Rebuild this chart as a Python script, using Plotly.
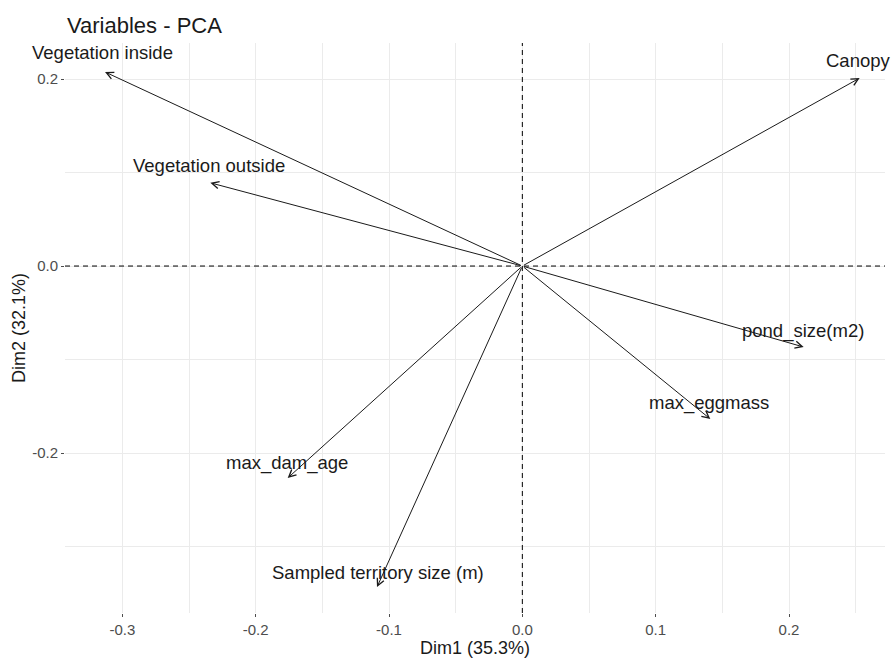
import plotly.graph_objects as go

# ---- data ----
variables = ["Vegetation inside", "Canopy", "Vegetation outside", "pond_size(m2)",
             "max_eggmass", "max_dam_age", "Sampled territory size (m)"]
dim1 = [-0.313, 0.253, -0.234, 0.211, 0.141, -0.176, -0.109]
dim2 = [0.2075, 0.201, 0.089, -0.0866, -0.1636, -0.2267, -0.3433]

x_ticks = [-0.3, -0.2, -0.1, 0.0, 0.1, 0.2]
y_ticks = [-0.2, 0.0, 0.2]

# label pixel offsets (styling only)
label_xshift = [-3, -1, -1, -1, -1, -1, 1]
label_yshift = [19, 18, 17, 16, 16, 15, 15]

FONT = "Liberation Sans, Arial, sans-serif"

fig = go.Figure()

# invisible trace to anchor axes
fig.add_trace(go.Scatter(x=dim1, y=dim2, mode="markers",
                         marker=dict(size=1, opacity=0), hoverinfo="skip",
                         showlegend=False))

annotations = []
for name, xv, yv, dx, dy in zip(variables, dim1, dim2, label_xshift, label_yshift):
    annotations.append(dict(
        x=xv, y=yv, ax=0, ay=0, xref="x", yref="y", axref="x", ayref="y",
        text="", showarrow=True, arrowhead=5, arrowsize=1.4, arrowwidth=1,
        arrowcolor="#1a1a1a", standoff=0, startstandoff=0))
    annotations.append(dict(
        x=xv, y=yv, xref="x", yref="y", text=name, showarrow=False,
        xanchor="center", yanchor="middle", xshift=dx, yshift=dy,
        font=dict(family=FONT, size=18.5, color="#1a1a1a")))

shapes = [
    dict(type="line", xref="x", yref="paper", x0=0, x1=0, y0=0, y1=1,
         line=dict(color="black", width=1, dash="5px,4px"), layer="above"),
    dict(type="line", xref="paper", yref="y", x0=0, x1=1, y0=0, y1=0,
         line=dict(color="black", width=1, dash="5px,4px"), layer="above"),
]

fig.update_layout(
    width=891, height=661,
    margin=dict(l=65, r=6, t=43, b=48),
    paper_bgcolor="white", plot_bgcolor="white",
    font=dict(family=FONT, color="#1a1a1a"),
    title=dict(text="Variables - PCA", x=67 / 891, xref="container", xanchor="left",
               y=1 - 25 / 661, yref="container", yanchor="middle",
               font=dict(family=FONT, size=22, color="#1a1a1a")),
    annotations=annotations,
    shapes=shapes,
    showlegend=False,
)

fig.update_xaxes(
    range=[-0.343, 0.272], tickvals=x_ticks,
    ticktext=[f"{v:.1f}" for v in x_ticks],
    ticks="outside", ticklen=3, tickcolor="#4d4d4d",
    tickfont=dict(family=FONT, size=15, color="#4d4d4d"),
    showgrid=True, gridcolor="#ebebeb", gridwidth=1,
    minor=dict(dtick=0.05, tick0=0, showgrid=True, gridcolor="#ebebeb", gridwidth=0.8),
    zeroline=False, showline=False,
    title=dict(text="Dim1 (35.3%)", standoff=4, font=dict(family=FONT, size=18, color="#1a1a1a")),
)
fig.update_yaxes(
    range=[-0.371, 0.2385], tickvals=y_ticks,
    ticktext=[f"{v:.1f}" for v in y_ticks],
    ticks="outside", ticklen=3, tickcolor="#4d4d4d",
    tickfont=dict(family=FONT, size=15, color="#4d4d4d"),
    showgrid=True, gridcolor="#ebebeb", gridwidth=1,
    minor=dict(dtick=0.1, tick0=0, showgrid=True, gridcolor="#ebebeb", gridwidth=0.8),
    zeroline=False, showline=False,
    title=dict(text="Dim2 (32.1%)", standoff=1, font=dict(family=FONT, size=18, color="#1a1a1a")),
)

fig.write_html("out.html", config={"displayModeBar": False},
               post_script="document.body.style.margin='0px';document.body.style.overflow='hidden';")
